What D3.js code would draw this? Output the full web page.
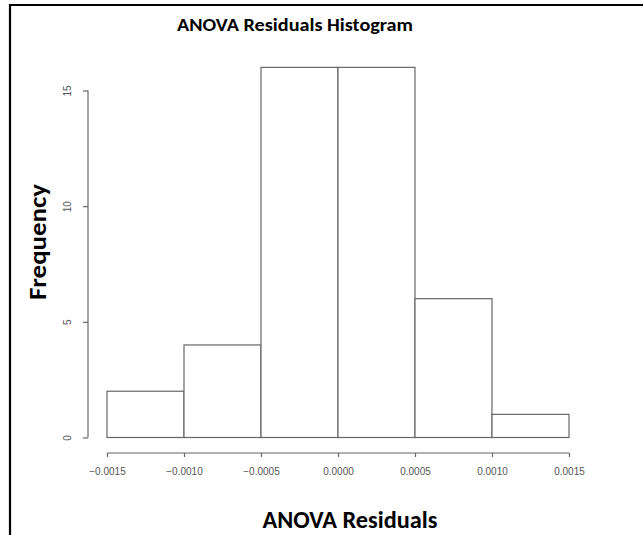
<!DOCTYPE html>
<html>
<head>
<meta charset="utf-8">
<script src="https://cdn.jsdelivr.net/npm/d3@7"></script>
<style>
  body { margin: 0; background: #fff; }
  svg { display: block; }
</style>
</head>
<body>
<div id="chart"></div>
<script>
// Bin edges and counts
const binEdges = [-0.0015, -0.0010, -0.0005, 0.0000, 0.0005, 0.0010, 0.0015];
const counts = [2, 4, 16, 16, 6, 1];
const xTicks = [-0.0015, -0.0010, -0.0005, 0.0000, 0.0005, 0.0010, 0.0015];
const yTicks = [0, 5, 10, 15];

const W = 643, H = 535;
const axisColor = "#666";

const x = d3.scaleLinear().domain([-0.0015, 0.0015]).range([107, 569]);
const y = d3.scaleLinear().domain([0, 15]).range([437.5, 90.5]);

const svg = d3.select("#chart").append("svg")
    .attr("width", W)
    .attr("height", H);

svg.append("rect").attr("width", W).attr("height", H).attr("fill", "#fff");

// frame (top and left edges only are visible)
svg.append("line").attr("x1", 9).attr("x2", W).attr("y1", 5).attr("y2", 5)
    .attr("stroke", "#000").attr("stroke-width", 2.2);
svg.append("line").attr("x1", 10).attr("x2", 10).attr("y1", 4).attr("y2", H)
    .attr("stroke", "#000").attr("stroke-width", 2.2);

// bars
const bins = counts.map((c, i) => ({x0: binEdges[i], x1: binEdges[i + 1], n: c}));
svg.append("g").selectAll("rect")
    .data(bins)
    .join("rect")
    .attr("x", d => x(d.x0))
    .attr("y", d => y(d.n))
    .attr("width", d => x(d.x1) - x(d.x0))
    .attr("height", d => y(0) - y(d.n))
    .attr("fill", "#fff")
    .attr("stroke", axisColor)
    .attr("stroke-width", 1.2);

const tickFont = "'Liberation Sans', Arial, sans-serif";

// x axis
const xAxis = svg.append("g")
    .attr("transform", "translate(0,453)")
    .call(d3.axisBottom(x).tickValues(xTicks).tickFormat(d3.format(".4f")).tickSize(4).tickSizeOuter(4));
xAxis.select(".domain").remove();
xAxis.append("line")
    .attr("x1", x(-0.0015)).attr("x2", x(0.0015))
    .attr("stroke", axisColor).attr("stroke-width", 1.2);
xAxis.selectAll("line").attr("stroke", axisColor).attr("stroke-width", 1.2);
xAxis.selectAll(".tick text")
    .attr("fill", "#555")
    .attr("y", 19)
    .attr("dy", "0.32em")
    .style("font-family", tickFont)
    .style("font-size", "10px");

// y axis with rotated labels
const yAxis = svg.append("g")
    .attr("transform", "translate(88,0)")
    .call(d3.axisLeft(y).tickValues(yTicks).tickSize(5).tickSizeOuter(5));
yAxis.select(".domain").remove();
yAxis.append("line")
    .attr("y1", y(0)).attr("y2", y(15))
    .attr("stroke", axisColor).attr("stroke-width", 1.2);
yAxis.selectAll("line").attr("stroke", axisColor).attr("stroke-width", 1.2);
yAxis.selectAll(".tick text")
    .attr("fill", "#555")
    .style("font-family", tickFont)
    .style("font-size", "10px")
    .attr("x", null).attr("dy", "0.32em")
    .attr("text-anchor", "middle")
    .attr("transform", "translate(-20,0) rotate(-90)");

// titles
const titleFont = "Carlito, Calibri, Lato, sans-serif";
svg.append("text")
    .attr("x", 295).attr("y", 31)
    .attr("text-anchor", "middle")
    .attr("textLength", 236)
    .attr("lengthAdjust", "spacingAndGlyphs")
    .style("font-family", titleFont)
    .style("font-weight", "bold")
    .style("font-size", "19px")
    .text("ANOVA Residuals Histogram");

svg.append("text")
    .attr("x", 350).attr("y", 528)
    .attr("text-anchor", "middle")
    .attr("textLength", 175)
    .attr("lengthAdjust", "spacingAndGlyphs")
    .style("font-family", titleFont)
    .style("font-weight", "bold")
    .style("font-size", "24px")
    .text("ANOVA Residuals");

svg.append("text")
    .attr("transform", "translate(46,242) rotate(-90)")
    .attr("text-anchor", "middle")
    .attr("textLength", 116)
    .attr("lengthAdjust", "spacingAndGlyphs")
    .style("font-family", titleFont)
    .style("font-weight", "bold")
    .style("font-size", "24px")
    .text("Frequency");
</script>
</body>
</html>
